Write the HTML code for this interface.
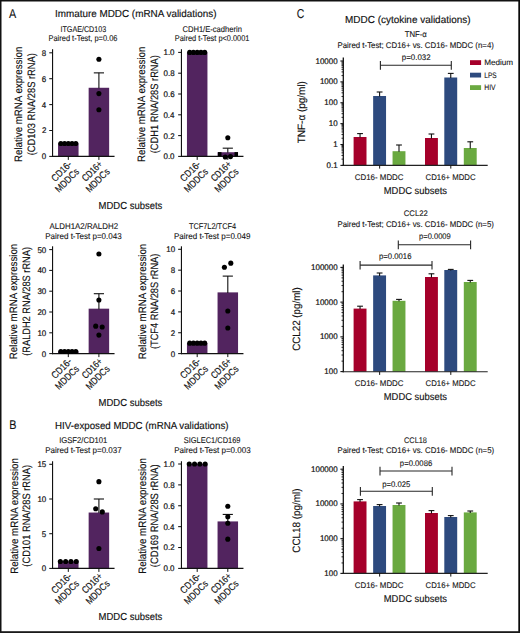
<!DOCTYPE html>
<html><head><meta charset="utf-8"><style>
html,body{margin:0;padding:0;background:#fff;}
body{width:520px;height:633px;overflow:hidden;}
svg{display:block;font-family:"Liberation Sans", sans-serif;text-rendering:geometricPrecision;}
text{fill:#111;stroke:#111;}
</style></head><body>
<svg width="520" height="633" viewBox="0 0 520 633">
<rect x="0" y="0" width="520" height="633" fill="#fff"/>
<text x="9.00" y="17.70" font-size="12.8" textLength="7.22" lengthAdjust="spacingAndGlyphs" stroke-width="0.1">A</text>
<text x="54.96" y="17.00" font-size="10.2" textLength="161.55" lengthAdjust="spacingAndGlyphs" stroke-width="0.15">Immature MDDC (mRNA validations)</text>
<text x="60.46" y="31.75" font-size="8.4" textLength="45.74" lengthAdjust="spacingAndGlyphs" stroke-width="0.1">ITGAE/CD103</text>
<text x="48.50" y="40.75" font-size="8.4" textLength="68.95" lengthAdjust="spacingAndGlyphs" stroke-width="0.1">Paired t-Test, p=0.06</text>
<text x="182.47" y="31.75" font-size="8.4" textLength="59.40" lengthAdjust="spacingAndGlyphs" stroke-width="0.1">CDH1/E-cadherin</text>
<text x="174.76" y="40.75" font-size="8.4" textLength="74.73" lengthAdjust="spacingAndGlyphs" stroke-width="0.1">Paired t-Test p&lt;0.0001</text>
<rect x="58.05" y="143.45" width="20.50" height="12.95" fill="#52245f"/>
<rect x="88.65" y="87.77" width="20.50" height="68.63" fill="#52245f"/>
<line x1="98.90" y1="72.87" x2="98.90" y2="88.27" stroke="#111" stroke-width="1.1"/>
<line x1="93.80" y1="72.87" x2="104.00" y2="72.87" stroke="#111" stroke-width="1.1"/>
<line x1="52.55" y1="49.20" x2="52.55" y2="156.95" stroke="#111" stroke-width="1.15"/>
<line x1="52.00" y1="156.40" x2="114.55" y2="156.40" stroke="#111" stroke-width="1.15"/>
<line x1="49.25" y1="156.40" x2="52.55" y2="156.40" stroke="#111" stroke-width="1.05"/>
<text x="41.81" y="159.30" font-size="8.2" textLength="4.42" lengthAdjust="spacingAndGlyphs" stroke-width="0.2">0</text>
<line x1="49.25" y1="130.50" x2="52.55" y2="130.50" stroke="#111" stroke-width="1.05"/>
<text x="41.93" y="133.40" font-size="8.2" textLength="4.42" lengthAdjust="spacingAndGlyphs" stroke-width="0.2">2</text>
<line x1="49.25" y1="104.60" x2="52.55" y2="104.60" stroke="#111" stroke-width="1.05"/>
<text x="41.73" y="107.50" font-size="8.2" textLength="4.42" lengthAdjust="spacingAndGlyphs" stroke-width="0.2">4</text>
<line x1="49.25" y1="78.70" x2="52.55" y2="78.70" stroke="#111" stroke-width="1.05"/>
<text x="41.85" y="81.60" font-size="8.2" textLength="4.42" lengthAdjust="spacingAndGlyphs" stroke-width="0.2">6</text>
<line x1="49.25" y1="52.80" x2="52.55" y2="52.80" stroke="#111" stroke-width="1.05"/>
<text x="41.85" y="55.70" font-size="8.2" textLength="4.42" lengthAdjust="spacingAndGlyphs" stroke-width="0.2">8</text>
<line x1="68.30" y1="156.40" x2="68.30" y2="159.90" stroke="#111" stroke-width="1.0"/>
<line x1="98.90" y1="156.40" x2="98.90" y2="159.90" stroke="#111" stroke-width="1.0"/>
<circle cx="60.80" cy="143.45" r="2.55" fill="#000"/>
<circle cx="64.55" cy="143.45" r="2.55" fill="#000"/>
<circle cx="68.30" cy="143.45" r="2.55" fill="#000"/>
<circle cx="72.05" cy="143.45" r="2.55" fill="#000"/>
<circle cx="75.80" cy="143.45" r="2.55" fill="#000"/>
<circle cx="98.90" cy="59.28" r="2.55" fill="#000"/>
<circle cx="98.90" cy="93.59" r="2.55" fill="#000"/>
<circle cx="98.90" cy="109.78" r="2.55" fill="#000"/>
<text x="-27.52" y="8.90" font-size="9.8" textLength="24.40" lengthAdjust="spacingAndGlyphs" transform="translate(68.30,156.40) rotate(-45)" stroke-width="0.15">CD16-</text>
<text x="-32.47" y="19.40" font-size="9.8" textLength="29.26" lengthAdjust="spacingAndGlyphs" transform="translate(68.30,156.40) rotate(-45)" stroke-width="0.15">MDDCs</text>
<text x="-27.49" y="8.90" font-size="9.8" textLength="24.38" lengthAdjust="spacingAndGlyphs" transform="translate(98.90,156.40) rotate(-45)" stroke-width="0.15">CD16+</text>
<text x="-32.47" y="19.40" font-size="9.8" textLength="29.26" lengthAdjust="spacingAndGlyphs" transform="translate(98.90,156.40) rotate(-45)" stroke-width="0.15">MDDCs</text>
<text x="-57.78" y="0.00" font-size="10.7" textLength="115.35" lengthAdjust="spacingAndGlyphs" transform="translate(22.20,104.20) rotate(-90)" stroke-width="0.15">Relative mRNA expression</text>
<text x="-51.06" y="0.00" font-size="10.7" textLength="102.14" lengthAdjust="spacingAndGlyphs" transform="translate(34.50,104.20) rotate(-90)" stroke-width="0.15">(CD103 RNA/28S rRNA)</text>
<rect x="186.95" y="52.40" width="20.50" height="104.00" fill="#52245f"/>
<rect x="217.55" y="152.24" width="20.50" height="4.16" fill="#52245f"/>
<line x1="227.80" y1="148.18" x2="227.80" y2="152.74" stroke="#111" stroke-width="1.1"/>
<line x1="222.70" y1="148.18" x2="232.90" y2="148.18" stroke="#111" stroke-width="1.1"/>
<line x1="181.45" y1="49.20" x2="181.45" y2="156.95" stroke="#111" stroke-width="1.15"/>
<line x1="180.90" y1="156.40" x2="243.45" y2="156.40" stroke="#111" stroke-width="1.15"/>
<line x1="178.15" y1="156.40" x2="181.45" y2="156.40" stroke="#111" stroke-width="1.05"/>
<text x="163.47" y="159.30" font-size="8.2" textLength="11.06" lengthAdjust="spacingAndGlyphs" stroke-width="0.2">0.0</text>
<line x1="178.15" y1="135.60" x2="181.45" y2="135.60" stroke="#111" stroke-width="1.05"/>
<text x="163.59" y="138.50" font-size="8.2" textLength="11.06" lengthAdjust="spacingAndGlyphs" stroke-width="0.2">0.2</text>
<line x1="178.15" y1="114.80" x2="181.45" y2="114.80" stroke="#111" stroke-width="1.05"/>
<text x="163.39" y="117.70" font-size="8.2" textLength="11.06" lengthAdjust="spacingAndGlyphs" stroke-width="0.2">0.4</text>
<line x1="178.15" y1="94.00" x2="181.45" y2="94.00" stroke="#111" stroke-width="1.05"/>
<text x="163.51" y="96.90" font-size="8.2" textLength="11.06" lengthAdjust="spacingAndGlyphs" stroke-width="0.2">0.6</text>
<line x1="178.15" y1="73.20" x2="181.45" y2="73.20" stroke="#111" stroke-width="1.05"/>
<text x="163.51" y="76.10" font-size="8.2" textLength="11.06" lengthAdjust="spacingAndGlyphs" stroke-width="0.2">0.8</text>
<line x1="178.15" y1="52.40" x2="181.45" y2="52.40" stroke="#111" stroke-width="1.05"/>
<text x="163.47" y="55.30" font-size="8.2" textLength="11.06" lengthAdjust="spacingAndGlyphs" stroke-width="0.2">1.0</text>
<line x1="197.20" y1="156.40" x2="197.20" y2="159.90" stroke="#111" stroke-width="1.0"/>
<line x1="227.80" y1="156.40" x2="227.80" y2="159.90" stroke="#111" stroke-width="1.0"/>
<circle cx="189.70" cy="52.40" r="2.55" fill="#000"/>
<circle cx="193.45" cy="52.40" r="2.55" fill="#000"/>
<circle cx="197.20" cy="52.40" r="2.55" fill="#000"/>
<circle cx="200.95" cy="52.40" r="2.55" fill="#000"/>
<circle cx="204.70" cy="52.40" r="2.55" fill="#000"/>
<circle cx="227.80" cy="137.68" r="2.55" fill="#000"/>
<circle cx="225.30" cy="157.02" r="2.55" fill="#000"/>
<circle cx="230.50" cy="156.61" r="2.55" fill="#000"/>
<rect x="218.00" y="152.10" width="3.50" height="4.20" fill="#000"/>
<rect x="234.50" y="152.10" width="3.50" height="4.20" fill="#000"/>
<text x="-27.52" y="8.90" font-size="9.8" textLength="24.40" lengthAdjust="spacingAndGlyphs" transform="translate(197.20,156.40) rotate(-45)" stroke-width="0.15">CD16-</text>
<text x="-32.47" y="19.40" font-size="9.8" textLength="29.26" lengthAdjust="spacingAndGlyphs" transform="translate(197.20,156.40) rotate(-45)" stroke-width="0.15">MDDCs</text>
<text x="-27.49" y="8.90" font-size="9.8" textLength="24.38" lengthAdjust="spacingAndGlyphs" transform="translate(227.80,156.40) rotate(-45)" stroke-width="0.15">CD16+</text>
<text x="-32.47" y="19.40" font-size="9.8" textLength="29.26" lengthAdjust="spacingAndGlyphs" transform="translate(227.80,156.40) rotate(-45)" stroke-width="0.15">MDDCs</text>
<text x="-57.78" y="0.00" font-size="10.7" textLength="115.35" lengthAdjust="spacingAndGlyphs" transform="translate(145.30,104.20) rotate(-90)" stroke-width="0.15">Relative mRNA expression</text>
<text x="-49.06" y="0.00" font-size="10.7" textLength="98.14" lengthAdjust="spacingAndGlyphs" transform="translate(157.70,104.20) rotate(-90)" stroke-width="0.15">(CDH1 RNA/28S rRNA)</text>
<text x="98.59" y="208.60" font-size="10.2" textLength="63.78" lengthAdjust="spacingAndGlyphs" stroke-width="0.15">MDDC subsets</text>
<text x="49.60" y="229.25" font-size="8.4" textLength="68.45" lengthAdjust="spacingAndGlyphs" stroke-width="0.1">ALDH1A2/RALDH2</text>
<text x="45.21" y="238.75" font-size="8.4" textLength="76.50" lengthAdjust="spacingAndGlyphs" stroke-width="0.1">Paired t-Test p=0.043</text>
<text x="188.95" y="229.25" font-size="8.4" textLength="47.13" lengthAdjust="spacingAndGlyphs" stroke-width="0.1">TCF7L2/TCF4</text>
<text x="173.96" y="238.75" font-size="8.4" textLength="76.54" lengthAdjust="spacingAndGlyphs" stroke-width="0.1">Paired t-Test p=0.049</text>
<rect x="58.05" y="351.52" width="20.50" height="2.08" fill="#52245f"/>
<rect x="88.65" y="308.67" width="20.50" height="44.93" fill="#52245f"/>
<line x1="98.90" y1="293.70" x2="98.90" y2="309.17" stroke="#111" stroke-width="1.1"/>
<line x1="93.80" y1="293.70" x2="104.00" y2="293.70" stroke="#111" stroke-width="1.1"/>
<line x1="52.55" y1="246.30" x2="52.55" y2="354.15" stroke="#111" stroke-width="1.15"/>
<line x1="52.00" y1="353.60" x2="114.55" y2="353.60" stroke="#111" stroke-width="1.15"/>
<line x1="49.25" y1="353.60" x2="52.55" y2="353.60" stroke="#111" stroke-width="1.05"/>
<text x="41.81" y="356.50" font-size="8.2" textLength="4.42" lengthAdjust="spacingAndGlyphs" stroke-width="0.2">0</text>
<line x1="49.25" y1="332.80" x2="52.55" y2="332.80" stroke="#111" stroke-width="1.05"/>
<text x="37.40" y="335.70" font-size="8.2" textLength="8.85" lengthAdjust="spacingAndGlyphs" stroke-width="0.2">10</text>
<line x1="49.25" y1="312.00" x2="52.55" y2="312.00" stroke="#111" stroke-width="1.05"/>
<text x="37.40" y="314.90" font-size="8.2" textLength="8.85" lengthAdjust="spacingAndGlyphs" stroke-width="0.2">20</text>
<line x1="49.25" y1="291.20" x2="52.55" y2="291.20" stroke="#111" stroke-width="1.05"/>
<text x="37.40" y="294.10" font-size="8.2" textLength="8.85" lengthAdjust="spacingAndGlyphs" stroke-width="0.2">30</text>
<line x1="49.25" y1="270.40" x2="52.55" y2="270.40" stroke="#111" stroke-width="1.05"/>
<text x="37.40" y="273.30" font-size="8.2" textLength="8.85" lengthAdjust="spacingAndGlyphs" stroke-width="0.2">40</text>
<line x1="49.25" y1="249.60" x2="52.55" y2="249.60" stroke="#111" stroke-width="1.05"/>
<text x="37.40" y="252.50" font-size="8.2" textLength="8.85" lengthAdjust="spacingAndGlyphs" stroke-width="0.2">50</text>
<line x1="68.30" y1="353.60" x2="68.30" y2="357.10" stroke="#111" stroke-width="1.0"/>
<line x1="98.90" y1="353.60" x2="98.90" y2="357.10" stroke="#111" stroke-width="1.0"/>
<circle cx="60.80" cy="351.52" r="2.55" fill="#000"/>
<circle cx="64.55" cy="351.52" r="2.55" fill="#000"/>
<circle cx="68.30" cy="351.52" r="2.55" fill="#000"/>
<circle cx="72.05" cy="351.52" r="2.55" fill="#000"/>
<circle cx="75.80" cy="351.52" r="2.55" fill="#000"/>
<circle cx="98.90" cy="253.97" r="2.55" fill="#000"/>
<circle cx="98.90" cy="299.94" r="2.55" fill="#000"/>
<circle cx="95.70" cy="326.14" r="2.55" fill="#000"/>
<circle cx="102.20" cy="326.98" r="2.55" fill="#000"/>
<circle cx="98.90" cy="335.09" r="2.55" fill="#000"/>
<text x="-27.52" y="8.90" font-size="9.8" textLength="24.40" lengthAdjust="spacingAndGlyphs" transform="translate(68.30,353.60) rotate(-45)" stroke-width="0.15">CD16-</text>
<text x="-32.47" y="19.40" font-size="9.8" textLength="29.26" lengthAdjust="spacingAndGlyphs" transform="translate(68.30,353.60) rotate(-45)" stroke-width="0.15">MDDCs</text>
<text x="-27.49" y="8.90" font-size="9.8" textLength="24.38" lengthAdjust="spacingAndGlyphs" transform="translate(98.90,353.60) rotate(-45)" stroke-width="0.15">CD16+</text>
<text x="-32.47" y="19.40" font-size="9.8" textLength="29.26" lengthAdjust="spacingAndGlyphs" transform="translate(98.90,353.60) rotate(-45)" stroke-width="0.15">MDDCs</text>
<text x="-57.78" y="0.00" font-size="10.7" textLength="115.35" lengthAdjust="spacingAndGlyphs" transform="translate(17.00,301.40) rotate(-90)" stroke-width="0.15">Relative mRNA expression</text>
<text x="-54.35" y="0.00" font-size="10.7" textLength="108.71" lengthAdjust="spacingAndGlyphs" transform="translate(29.50,301.40) rotate(-90)" stroke-width="0.15">(RALDH2 RNA/28S rRNA)</text>
<rect x="186.95" y="343.17" width="20.50" height="10.43" fill="#52245f"/>
<rect x="217.55" y="292.38" width="20.50" height="61.22" fill="#52245f"/>
<line x1="227.80" y1="276.11" x2="227.80" y2="292.88" stroke="#111" stroke-width="1.1"/>
<line x1="222.70" y1="276.11" x2="232.90" y2="276.11" stroke="#111" stroke-width="1.1"/>
<line x1="181.45" y1="246.30" x2="181.45" y2="354.15" stroke="#111" stroke-width="1.15"/>
<line x1="180.90" y1="353.60" x2="243.45" y2="353.60" stroke="#111" stroke-width="1.15"/>
<line x1="178.15" y1="353.60" x2="181.45" y2="353.60" stroke="#111" stroke-width="1.05"/>
<text x="170.71" y="356.50" font-size="8.2" textLength="4.42" lengthAdjust="spacingAndGlyphs" stroke-width="0.2">0</text>
<line x1="178.15" y1="332.74" x2="181.45" y2="332.74" stroke="#111" stroke-width="1.05"/>
<text x="170.83" y="335.64" font-size="8.2" textLength="4.42" lengthAdjust="spacingAndGlyphs" stroke-width="0.2">2</text>
<line x1="178.15" y1="311.88" x2="181.45" y2="311.88" stroke="#111" stroke-width="1.05"/>
<text x="170.63" y="314.78" font-size="8.2" textLength="4.42" lengthAdjust="spacingAndGlyphs" stroke-width="0.2">4</text>
<line x1="178.15" y1="291.02" x2="181.45" y2="291.02" stroke="#111" stroke-width="1.05"/>
<text x="170.75" y="293.92" font-size="8.2" textLength="4.42" lengthAdjust="spacingAndGlyphs" stroke-width="0.2">6</text>
<line x1="178.15" y1="270.16" x2="181.45" y2="270.16" stroke="#111" stroke-width="1.05"/>
<text x="170.75" y="273.06" font-size="8.2" textLength="4.42" lengthAdjust="spacingAndGlyphs" stroke-width="0.2">8</text>
<line x1="178.15" y1="249.30" x2="181.45" y2="249.30" stroke="#111" stroke-width="1.05"/>
<text x="166.30" y="252.20" font-size="8.2" textLength="8.85" lengthAdjust="spacingAndGlyphs" stroke-width="0.2">10</text>
<line x1="197.20" y1="353.60" x2="197.20" y2="357.10" stroke="#111" stroke-width="1.0"/>
<line x1="227.80" y1="353.60" x2="227.80" y2="357.10" stroke="#111" stroke-width="1.0"/>
<circle cx="189.70" cy="343.17" r="2.55" fill="#000"/>
<circle cx="193.45" cy="343.17" r="2.55" fill="#000"/>
<circle cx="197.20" cy="343.17" r="2.55" fill="#000"/>
<circle cx="200.95" cy="343.17" r="2.55" fill="#000"/>
<circle cx="204.70" cy="343.17" r="2.55" fill="#000"/>
<circle cx="224.40" cy="267.24" r="2.55" fill="#000"/>
<circle cx="230.80" cy="263.17" r="2.55" fill="#000"/>
<circle cx="227.80" cy="311.05" r="2.55" fill="#000"/>
<circle cx="227.80" cy="328.05" r="2.55" fill="#000"/>
<text x="-27.52" y="8.90" font-size="9.8" textLength="24.40" lengthAdjust="spacingAndGlyphs" transform="translate(197.20,353.60) rotate(-45)" stroke-width="0.15">CD16-</text>
<text x="-32.47" y="19.40" font-size="9.8" textLength="29.26" lengthAdjust="spacingAndGlyphs" transform="translate(197.20,353.60) rotate(-45)" stroke-width="0.15">MDDCs</text>
<text x="-27.49" y="8.90" font-size="9.8" textLength="24.38" lengthAdjust="spacingAndGlyphs" transform="translate(227.80,353.60) rotate(-45)" stroke-width="0.15">CD16+</text>
<text x="-32.47" y="19.40" font-size="9.8" textLength="29.26" lengthAdjust="spacingAndGlyphs" transform="translate(227.80,353.60) rotate(-45)" stroke-width="0.15">MDDCs</text>
<text x="-57.78" y="0.00" font-size="10.7" textLength="115.35" lengthAdjust="spacingAndGlyphs" transform="translate(146.10,301.40) rotate(-90)" stroke-width="0.15">Relative mRNA expression</text>
<text x="-47.65" y="0.00" font-size="10.7" textLength="95.35" lengthAdjust="spacingAndGlyphs" transform="translate(158.40,301.40) rotate(-90)" stroke-width="0.15">(TCF4 RNA/28S rRNA)</text>
<text x="98.59" y="405.70" font-size="10.2" textLength="63.78" lengthAdjust="spacingAndGlyphs" stroke-width="0.15">MDDC subsets</text>
<text x="9.13" y="429.40" font-size="12.8" textLength="7.23" lengthAdjust="spacingAndGlyphs" stroke-width="0.1">B</text>
<text x="55.07" y="428.75" font-size="10.2" textLength="173.45" lengthAdjust="spacingAndGlyphs" stroke-width="0.15">HIV-exposed MDDC (mRNA validations)</text>
<text x="59.16" y="443.00" font-size="8.4" textLength="48.14" lengthAdjust="spacingAndGlyphs" stroke-width="0.1">IGSF2/CD101</text>
<text x="45.21" y="453.00" font-size="8.4" textLength="76.53" lengthAdjust="spacingAndGlyphs" stroke-width="0.1">Paired t-Test p=0.037</text>
<text x="183.76" y="442.75" font-size="8.4" textLength="56.72" lengthAdjust="spacingAndGlyphs" stroke-width="0.1">SIGLEC1/CD169</text>
<text x="174.21" y="453.00" font-size="8.4" textLength="76.50" lengthAdjust="spacingAndGlyphs" stroke-width="0.1">Paired t-Test p=0.003</text>
<rect x="58.05" y="561.46" width="20.50" height="6.94" fill="#52245f"/>
<rect x="88.65" y="512.53" width="20.50" height="55.87" fill="#52245f"/>
<line x1="98.90" y1="499.00" x2="98.90" y2="513.03" stroke="#111" stroke-width="1.1"/>
<line x1="93.80" y1="499.00" x2="104.00" y2="499.00" stroke="#111" stroke-width="1.1"/>
<line x1="52.55" y1="461.25" x2="52.55" y2="568.95" stroke="#111" stroke-width="1.15"/>
<line x1="52.00" y1="568.40" x2="114.55" y2="568.40" stroke="#111" stroke-width="1.15"/>
<line x1="49.25" y1="568.40" x2="52.55" y2="568.40" stroke="#111" stroke-width="1.05"/>
<text x="41.81" y="571.30" font-size="8.2" textLength="4.42" lengthAdjust="spacingAndGlyphs" stroke-width="0.2">0</text>
<line x1="49.25" y1="533.70" x2="52.55" y2="533.70" stroke="#111" stroke-width="1.05"/>
<text x="41.85" y="536.60" font-size="8.2" textLength="4.42" lengthAdjust="spacingAndGlyphs" stroke-width="0.2">5</text>
<line x1="49.25" y1="499.00" x2="52.55" y2="499.00" stroke="#111" stroke-width="1.05"/>
<text x="37.40" y="501.90" font-size="8.2" textLength="8.85" lengthAdjust="spacingAndGlyphs" stroke-width="0.2">10</text>
<line x1="49.25" y1="464.30" x2="52.55" y2="464.30" stroke="#111" stroke-width="1.05"/>
<text x="37.44" y="467.20" font-size="8.2" textLength="8.85" lengthAdjust="spacingAndGlyphs" stroke-width="0.2">15</text>
<line x1="68.30" y1="568.40" x2="68.30" y2="571.90" stroke="#111" stroke-width="1.0"/>
<line x1="98.90" y1="568.40" x2="98.90" y2="571.90" stroke="#111" stroke-width="1.0"/>
<circle cx="60.35" cy="561.46" r="2.55" fill="#000"/>
<circle cx="65.65" cy="561.46" r="2.55" fill="#000"/>
<circle cx="70.95" cy="561.46" r="2.55" fill="#000"/>
<circle cx="76.25" cy="561.46" r="2.55" fill="#000"/>
<circle cx="98.90" cy="481.65" r="2.55" fill="#000"/>
<circle cx="95.70" cy="508.72" r="2.55" fill="#000"/>
<circle cx="102.30" cy="511.91" r="2.55" fill="#000"/>
<circle cx="98.90" cy="548.48" r="2.55" fill="#000"/>
<text x="-27.52" y="8.90" font-size="9.8" textLength="24.40" lengthAdjust="spacingAndGlyphs" transform="translate(68.30,568.40) rotate(-45)" stroke-width="0.15">CD16-</text>
<text x="-32.47" y="19.40" font-size="9.8" textLength="29.26" lengthAdjust="spacingAndGlyphs" transform="translate(68.30,568.40) rotate(-45)" stroke-width="0.15">MDDCs</text>
<text x="-27.49" y="8.90" font-size="9.8" textLength="24.38" lengthAdjust="spacingAndGlyphs" transform="translate(98.90,568.40) rotate(-45)" stroke-width="0.15">CD16+</text>
<text x="-32.47" y="19.40" font-size="9.8" textLength="29.26" lengthAdjust="spacingAndGlyphs" transform="translate(98.90,568.40) rotate(-45)" stroke-width="0.15">MDDCs</text>
<text x="-57.93" y="0.00" font-size="10.7" textLength="115.65" lengthAdjust="spacingAndGlyphs" transform="translate(17.50,515.85) rotate(-90)" stroke-width="0.15">Relative mRNA expression</text>
<text x="-50.81" y="0.00" font-size="10.7" textLength="101.64" lengthAdjust="spacingAndGlyphs" transform="translate(29.80,515.85) rotate(-90)" stroke-width="0.15">(CD101 RNA/28S rRNA)</text>
<rect x="186.95" y="464.00" width="20.50" height="104.40" fill="#52245f"/>
<rect x="217.55" y="521.42" width="20.50" height="46.98" fill="#52245f"/>
<line x1="227.80" y1="514.43" x2="227.80" y2="521.92" stroke="#111" stroke-width="1.1"/>
<line x1="222.70" y1="514.43" x2="232.90" y2="514.43" stroke="#111" stroke-width="1.1"/>
<line x1="181.45" y1="461.25" x2="181.45" y2="568.95" stroke="#111" stroke-width="1.15"/>
<line x1="180.90" y1="568.40" x2="243.45" y2="568.40" stroke="#111" stroke-width="1.15"/>
<line x1="178.15" y1="568.40" x2="181.45" y2="568.40" stroke="#111" stroke-width="1.05"/>
<text x="163.47" y="571.30" font-size="8.2" textLength="11.06" lengthAdjust="spacingAndGlyphs" stroke-width="0.2">0.0</text>
<line x1="178.15" y1="547.52" x2="181.45" y2="547.52" stroke="#111" stroke-width="1.05"/>
<text x="163.59" y="550.42" font-size="8.2" textLength="11.06" lengthAdjust="spacingAndGlyphs" stroke-width="0.2">0.2</text>
<line x1="178.15" y1="526.64" x2="181.45" y2="526.64" stroke="#111" stroke-width="1.05"/>
<text x="163.39" y="529.54" font-size="8.2" textLength="11.06" lengthAdjust="spacingAndGlyphs" stroke-width="0.2">0.4</text>
<line x1="178.15" y1="505.76" x2="181.45" y2="505.76" stroke="#111" stroke-width="1.05"/>
<text x="163.51" y="508.66" font-size="8.2" textLength="11.06" lengthAdjust="spacingAndGlyphs" stroke-width="0.2">0.6</text>
<line x1="178.15" y1="484.88" x2="181.45" y2="484.88" stroke="#111" stroke-width="1.05"/>
<text x="163.51" y="487.78" font-size="8.2" textLength="11.06" lengthAdjust="spacingAndGlyphs" stroke-width="0.2">0.8</text>
<line x1="178.15" y1="464.00" x2="181.45" y2="464.00" stroke="#111" stroke-width="1.05"/>
<text x="163.47" y="466.90" font-size="8.2" textLength="11.06" lengthAdjust="spacingAndGlyphs" stroke-width="0.2">1.0</text>
<line x1="197.20" y1="568.40" x2="197.20" y2="571.90" stroke="#111" stroke-width="1.0"/>
<line x1="227.80" y1="568.40" x2="227.80" y2="571.90" stroke="#111" stroke-width="1.0"/>
<circle cx="189.25" cy="464.00" r="2.55" fill="#000"/>
<circle cx="194.55" cy="464.00" r="2.55" fill="#000"/>
<circle cx="199.85" cy="464.00" r="2.55" fill="#000"/>
<circle cx="205.15" cy="464.00" r="2.55" fill="#000"/>
<circle cx="227.80" cy="506.28" r="2.55" fill="#000"/>
<circle cx="227.80" cy="516.72" r="2.55" fill="#000"/>
<circle cx="227.80" cy="523.30" r="2.55" fill="#000"/>
<circle cx="227.80" cy="539.17" r="2.55" fill="#000"/>
<text x="-27.52" y="8.90" font-size="9.8" textLength="24.40" lengthAdjust="spacingAndGlyphs" transform="translate(197.20,568.40) rotate(-45)" stroke-width="0.15">CD16-</text>
<text x="-32.47" y="19.40" font-size="9.8" textLength="29.26" lengthAdjust="spacingAndGlyphs" transform="translate(197.20,568.40) rotate(-45)" stroke-width="0.15">MDDCs</text>
<text x="-27.49" y="8.90" font-size="9.8" textLength="24.38" lengthAdjust="spacingAndGlyphs" transform="translate(227.80,568.40) rotate(-45)" stroke-width="0.15">CD16+</text>
<text x="-32.47" y="19.40" font-size="9.8" textLength="29.26" lengthAdjust="spacingAndGlyphs" transform="translate(227.80,568.40) rotate(-45)" stroke-width="0.15">MDDCs</text>
<text x="-57.93" y="0.00" font-size="10.7" textLength="115.65" lengthAdjust="spacingAndGlyphs" transform="translate(145.50,515.85) rotate(-90)" stroke-width="0.15">Relative mRNA expression</text>
<text x="-51.36" y="0.00" font-size="10.7" textLength="102.75" lengthAdjust="spacingAndGlyphs" transform="translate(157.90,515.85) rotate(-90)" stroke-width="0.15">(CD169 RNA/28S rRNA)</text>
<text x="98.59" y="620.40" font-size="10.2" textLength="63.78" lengthAdjust="spacingAndGlyphs" stroke-width="0.15">MDDC subsets</text>
<text x="296.67" y="17.90" font-size="12.8" textLength="7.62" lengthAdjust="spacingAndGlyphs" stroke-width="0.1">C</text>
<text x="345.05" y="22.50" font-size="10.2" textLength="125.44" lengthAdjust="spacingAndGlyphs" stroke-width="0.15">MDDC (cytokine validations)</text>
<text x="404.69" y="36.75" font-size="8.2" textLength="22.19" lengthAdjust="spacingAndGlyphs" stroke-width="0.1">TNF-α</text>
<text x="337.52" y="47.50" font-size="8.3" textLength="156.35" lengthAdjust="spacingAndGlyphs" stroke-width="0.1">Paired t-Test; CD16+ vs. CD16- MDDC (n=4)</text>
<rect x="353.60" y="137.00" width="12.90" height="28.40" fill="#a5002a"/>
<line x1="360.05" y1="133.60" x2="360.05" y2="137.50" stroke="#111" stroke-width="1.1"/>
<line x1="357.15" y1="133.60" x2="362.95" y2="133.60" stroke="#111" stroke-width="1.1"/>
<rect x="373.15" y="96.00" width="12.90" height="69.40" fill="#2d4a7e"/>
<line x1="379.60" y1="92.00" x2="379.60" y2="96.50" stroke="#111" stroke-width="1.1"/>
<line x1="376.70" y1="92.00" x2="382.50" y2="92.00" stroke="#111" stroke-width="1.1"/>
<rect x="392.55" y="151.20" width="12.90" height="14.20" fill="#6aa940"/>
<line x1="399.00" y1="145.00" x2="399.00" y2="151.70" stroke="#111" stroke-width="1.1"/>
<line x1="396.10" y1="145.00" x2="401.90" y2="145.00" stroke="#111" stroke-width="1.1"/>
<rect x="425.00" y="138.00" width="12.90" height="27.40" fill="#a5002a"/>
<line x1="431.45" y1="134.00" x2="431.45" y2="138.50" stroke="#111" stroke-width="1.1"/>
<line x1="428.55" y1="134.00" x2="434.35" y2="134.00" stroke="#111" stroke-width="1.1"/>
<rect x="444.30" y="77.50" width="12.90" height="87.90" fill="#2d4a7e"/>
<line x1="450.75" y1="73.40" x2="450.75" y2="78.00" stroke="#111" stroke-width="1.1"/>
<line x1="447.85" y1="73.40" x2="453.65" y2="73.40" stroke="#111" stroke-width="1.1"/>
<rect x="463.80" y="148.00" width="12.90" height="17.40" fill="#6aa940"/>
<line x1="470.25" y1="141.80" x2="470.25" y2="148.50" stroke="#111" stroke-width="1.1"/>
<line x1="467.35" y1="141.80" x2="473.15" y2="141.80" stroke="#111" stroke-width="1.1"/>
<line x1="343.30" y1="57.40" x2="343.30" y2="166.00" stroke="#111" stroke-width="1.3"/>
<line x1="342.65" y1="165.40" x2="487.70" y2="165.40" stroke="#222" stroke-width="1.15"/>
<line x1="340.40" y1="165.40" x2="343.30" y2="165.40" stroke="#111" stroke-width="1.1"/>
<text x="326.60" y="167.90" font-size="8.2" textLength="11.06" lengthAdjust="spacingAndGlyphs" stroke-width="0.2">0.1</text>
<line x1="341.50" y1="159.11" x2="343.30" y2="159.11" stroke="#111" stroke-width="0.9"/>
<line x1="341.50" y1="155.44" x2="343.30" y2="155.44" stroke="#111" stroke-width="0.9"/>
<line x1="341.50" y1="152.83" x2="343.30" y2="152.83" stroke="#111" stroke-width="0.9"/>
<line x1="341.50" y1="150.81" x2="343.30" y2="150.81" stroke="#111" stroke-width="0.9"/>
<line x1="341.50" y1="149.15" x2="343.30" y2="149.15" stroke="#111" stroke-width="0.9"/>
<line x1="341.50" y1="147.75" x2="343.30" y2="147.75" stroke="#111" stroke-width="0.9"/>
<line x1="341.50" y1="146.54" x2="343.30" y2="146.54" stroke="#111" stroke-width="0.9"/>
<line x1="341.50" y1="145.48" x2="343.30" y2="145.48" stroke="#111" stroke-width="0.9"/>
<line x1="340.40" y1="144.52" x2="343.30" y2="144.52" stroke="#111" stroke-width="1.1"/>
<text x="333.24" y="147.02" font-size="8.2" textLength="4.42" lengthAdjust="spacingAndGlyphs" stroke-width="0.2">1</text>
<line x1="341.50" y1="138.23" x2="343.30" y2="138.23" stroke="#111" stroke-width="0.9"/>
<line x1="341.50" y1="134.56" x2="343.30" y2="134.56" stroke="#111" stroke-width="0.9"/>
<line x1="341.50" y1="131.95" x2="343.30" y2="131.95" stroke="#111" stroke-width="0.9"/>
<line x1="341.50" y1="129.93" x2="343.30" y2="129.93" stroke="#111" stroke-width="0.9"/>
<line x1="341.50" y1="128.27" x2="343.30" y2="128.27" stroke="#111" stroke-width="0.9"/>
<line x1="341.50" y1="126.87" x2="343.30" y2="126.87" stroke="#111" stroke-width="0.9"/>
<line x1="341.50" y1="125.66" x2="343.30" y2="125.66" stroke="#111" stroke-width="0.9"/>
<line x1="341.50" y1="124.60" x2="343.30" y2="124.60" stroke="#111" stroke-width="0.9"/>
<line x1="340.40" y1="123.64" x2="343.30" y2="123.64" stroke="#111" stroke-width="1.1"/>
<text x="328.75" y="126.14" font-size="8.2" textLength="8.85" lengthAdjust="spacingAndGlyphs" stroke-width="0.2">10</text>
<line x1="341.50" y1="117.35" x2="343.30" y2="117.35" stroke="#111" stroke-width="0.9"/>
<line x1="341.50" y1="113.68" x2="343.30" y2="113.68" stroke="#111" stroke-width="0.9"/>
<line x1="341.50" y1="111.07" x2="343.30" y2="111.07" stroke="#111" stroke-width="0.9"/>
<line x1="341.50" y1="109.05" x2="343.30" y2="109.05" stroke="#111" stroke-width="0.9"/>
<line x1="341.50" y1="107.39" x2="343.30" y2="107.39" stroke="#111" stroke-width="0.9"/>
<line x1="341.50" y1="105.99" x2="343.30" y2="105.99" stroke="#111" stroke-width="0.9"/>
<line x1="341.50" y1="104.78" x2="343.30" y2="104.78" stroke="#111" stroke-width="0.9"/>
<line x1="341.50" y1="103.72" x2="343.30" y2="103.72" stroke="#111" stroke-width="0.9"/>
<line x1="340.40" y1="102.76" x2="343.30" y2="102.76" stroke="#111" stroke-width="1.1"/>
<text x="324.33" y="105.26" font-size="8.2" textLength="13.27" lengthAdjust="spacingAndGlyphs" stroke-width="0.2">100</text>
<line x1="341.50" y1="96.47" x2="343.30" y2="96.47" stroke="#111" stroke-width="0.9"/>
<line x1="341.50" y1="92.80" x2="343.30" y2="92.80" stroke="#111" stroke-width="0.9"/>
<line x1="341.50" y1="90.19" x2="343.30" y2="90.19" stroke="#111" stroke-width="0.9"/>
<line x1="341.50" y1="88.17" x2="343.30" y2="88.17" stroke="#111" stroke-width="0.9"/>
<line x1="341.50" y1="86.51" x2="343.30" y2="86.51" stroke="#111" stroke-width="0.9"/>
<line x1="341.50" y1="85.11" x2="343.30" y2="85.11" stroke="#111" stroke-width="0.9"/>
<line x1="341.50" y1="83.90" x2="343.30" y2="83.90" stroke="#111" stroke-width="0.9"/>
<line x1="341.50" y1="82.84" x2="343.30" y2="82.84" stroke="#111" stroke-width="0.9"/>
<line x1="340.40" y1="81.88" x2="343.30" y2="81.88" stroke="#111" stroke-width="1.1"/>
<text x="319.88" y="84.38" font-size="8.2" textLength="17.70" lengthAdjust="spacingAndGlyphs" stroke-width="0.2">1000</text>
<line x1="341.50" y1="75.59" x2="343.30" y2="75.59" stroke="#111" stroke-width="0.9"/>
<line x1="341.50" y1="71.92" x2="343.30" y2="71.92" stroke="#111" stroke-width="0.9"/>
<line x1="341.50" y1="69.31" x2="343.30" y2="69.31" stroke="#111" stroke-width="0.9"/>
<line x1="341.50" y1="67.29" x2="343.30" y2="67.29" stroke="#111" stroke-width="0.9"/>
<line x1="341.50" y1="65.63" x2="343.30" y2="65.63" stroke="#111" stroke-width="0.9"/>
<line x1="341.50" y1="64.23" x2="343.30" y2="64.23" stroke="#111" stroke-width="0.9"/>
<line x1="341.50" y1="63.02" x2="343.30" y2="63.02" stroke="#111" stroke-width="0.9"/>
<line x1="341.50" y1="61.96" x2="343.30" y2="61.96" stroke="#111" stroke-width="0.9"/>
<line x1="340.40" y1="61.00" x2="343.30" y2="61.00" stroke="#111" stroke-width="1.1"/>
<text x="315.47" y="63.50" font-size="8.2" textLength="22.12" lengthAdjust="spacingAndGlyphs" stroke-width="0.2">10000</text>
<line x1="379.65" y1="165.40" x2="379.65" y2="168.60" stroke="#111" stroke-width="1.0"/>
<line x1="450.80" y1="165.40" x2="450.80" y2="168.60" stroke="#111" stroke-width="1.0"/>
<line x1="380.40" y1="65.30" x2="451.30" y2="65.30" stroke="#262626" stroke-width="1.1"/>
<line x1="380.40" y1="61.10" x2="380.40" y2="69.70" stroke="#262626" stroke-width="1.1"/>
<line x1="451.30" y1="61.10" x2="451.30" y2="69.70" stroke="#262626" stroke-width="1.1"/>
<text x="401.84" y="60.40" font-size="8.2" textLength="28.83" lengthAdjust="spacingAndGlyphs" stroke-width="0.1">p=0.032</text>
<text x="-30.90" y="0.00" font-size="10.6" textLength="62.24" lengthAdjust="spacingAndGlyphs" transform="translate(305.30,112.40) rotate(-90)" stroke-width="0.15">TNF-α (pg/ml)</text>
<text x="354.75" y="179.70" font-size="8.3" textLength="48.79" lengthAdjust="spacingAndGlyphs" stroke-width="0.1">CD16- MDDC</text>
<text x="425.56" y="179.70" font-size="8.3" textLength="49.99" lengthAdjust="spacingAndGlyphs" stroke-width="0.1">CD16+ MDDC</text>
<text x="383.80" y="193.80" font-size="10.0" textLength="63.17" lengthAdjust="spacingAndGlyphs" stroke-width="0.15">MDDC subsets</text>
<rect x="470.00" y="60.20" width="11.10" height="4.80" fill="#a5002a"/>
<text x="484.20" y="65.20" font-size="8.0" textLength="28.95" lengthAdjust="spacingAndGlyphs" stroke-width="0.1">Medium</text>
<rect x="470.00" y="72.70" width="11.10" height="4.80" fill="#2d4a7e"/>
<text x="484.33" y="77.70" font-size="8.0" textLength="12.32" lengthAdjust="spacingAndGlyphs" stroke-width="0.1">LPS</text>
<rect x="470.00" y="85.20" width="11.10" height="4.80" fill="#6aa940"/>
<text x="484.30" y="89.80" font-size="8.0" textLength="11.36" lengthAdjust="spacingAndGlyphs" stroke-width="0.1">HIV</text>
<text x="403.76" y="216.00" font-size="8.2" textLength="24.10" lengthAdjust="spacingAndGlyphs" stroke-width="0.1">CCL22</text>
<text x="337.52" y="226.90" font-size="8.3" textLength="156.40" lengthAdjust="spacingAndGlyphs" stroke-width="0.1">Paired t-Test; CD16+ vs. CD16- MDDC (n=5)</text>
<rect x="353.60" y="308.60" width="12.90" height="63.10" fill="#a5002a"/>
<line x1="360.05" y1="306.20" x2="360.05" y2="309.10" stroke="#111" stroke-width="1.1"/>
<line x1="357.15" y1="306.20" x2="362.95" y2="306.20" stroke="#111" stroke-width="1.1"/>
<rect x="373.15" y="275.40" width="12.90" height="96.30" fill="#2d4a7e"/>
<line x1="379.60" y1="273.00" x2="379.60" y2="275.90" stroke="#111" stroke-width="1.1"/>
<line x1="376.70" y1="273.00" x2="382.50" y2="273.00" stroke="#111" stroke-width="1.1"/>
<rect x="392.55" y="300.80" width="12.90" height="70.90" fill="#6aa940"/>
<line x1="399.00" y1="299.40" x2="399.00" y2="301.30" stroke="#111" stroke-width="1.1"/>
<line x1="396.10" y1="299.40" x2="401.90" y2="299.40" stroke="#111" stroke-width="1.1"/>
<rect x="425.00" y="277.00" width="12.90" height="94.70" fill="#a5002a"/>
<line x1="431.45" y1="273.80" x2="431.45" y2="277.50" stroke="#111" stroke-width="1.1"/>
<line x1="428.55" y1="273.80" x2="434.35" y2="273.80" stroke="#111" stroke-width="1.1"/>
<rect x="444.30" y="270.00" width="12.90" height="101.70" fill="#2d4a7e"/>
<line x1="450.75" y1="269.40" x2="450.75" y2="270.50" stroke="#111" stroke-width="1.1"/>
<line x1="447.85" y1="269.40" x2="453.65" y2="269.40" stroke="#111" stroke-width="1.1"/>
<rect x="463.80" y="282.00" width="12.90" height="89.70" fill="#6aa940"/>
<line x1="470.25" y1="280.40" x2="470.25" y2="282.50" stroke="#111" stroke-width="1.1"/>
<line x1="467.35" y1="280.40" x2="473.15" y2="280.40" stroke="#111" stroke-width="1.1"/>
<line x1="343.30" y1="264.50" x2="343.30" y2="372.30" stroke="#111" stroke-width="1.3"/>
<line x1="342.65" y1="371.70" x2="487.70" y2="371.70" stroke="#222" stroke-width="1.15"/>
<line x1="340.40" y1="371.60" x2="343.30" y2="371.60" stroke="#111" stroke-width="1.1"/>
<text x="324.33" y="374.10" font-size="8.2" textLength="13.27" lengthAdjust="spacingAndGlyphs" stroke-width="0.2">100</text>
<line x1="341.50" y1="361.14" x2="343.30" y2="361.14" stroke="#111" stroke-width="0.9"/>
<line x1="341.50" y1="355.03" x2="343.30" y2="355.03" stroke="#111" stroke-width="0.9"/>
<line x1="341.50" y1="350.69" x2="343.30" y2="350.69" stroke="#111" stroke-width="0.9"/>
<line x1="341.50" y1="347.32" x2="343.30" y2="347.32" stroke="#111" stroke-width="0.9"/>
<line x1="341.50" y1="344.57" x2="343.30" y2="344.57" stroke="#111" stroke-width="0.9"/>
<line x1="341.50" y1="342.25" x2="343.30" y2="342.25" stroke="#111" stroke-width="0.9"/>
<line x1="341.50" y1="340.23" x2="343.30" y2="340.23" stroke="#111" stroke-width="0.9"/>
<line x1="341.50" y1="338.46" x2="343.30" y2="338.46" stroke="#111" stroke-width="0.9"/>
<line x1="340.40" y1="336.87" x2="343.30" y2="336.87" stroke="#111" stroke-width="1.1"/>
<text x="319.88" y="339.37" font-size="8.2" textLength="17.70" lengthAdjust="spacingAndGlyphs" stroke-width="0.2">1000</text>
<line x1="341.50" y1="326.41" x2="343.30" y2="326.41" stroke="#111" stroke-width="0.9"/>
<line x1="341.50" y1="320.29" x2="343.30" y2="320.29" stroke="#111" stroke-width="0.9"/>
<line x1="341.50" y1="315.96" x2="343.30" y2="315.96" stroke="#111" stroke-width="0.9"/>
<line x1="341.50" y1="312.59" x2="343.30" y2="312.59" stroke="#111" stroke-width="0.9"/>
<line x1="341.50" y1="309.84" x2="343.30" y2="309.84" stroke="#111" stroke-width="0.9"/>
<line x1="341.50" y1="307.51" x2="343.30" y2="307.51" stroke="#111" stroke-width="0.9"/>
<line x1="341.50" y1="305.50" x2="343.30" y2="305.50" stroke="#111" stroke-width="0.9"/>
<line x1="341.50" y1="303.72" x2="343.30" y2="303.72" stroke="#111" stroke-width="0.9"/>
<line x1="340.40" y1="302.13" x2="343.30" y2="302.13" stroke="#111" stroke-width="1.1"/>
<text x="315.47" y="304.64" font-size="8.2" textLength="22.12" lengthAdjust="spacingAndGlyphs" stroke-width="0.2">10000</text>
<line x1="341.50" y1="291.68" x2="343.30" y2="291.68" stroke="#111" stroke-width="0.9"/>
<line x1="341.50" y1="285.56" x2="343.30" y2="285.56" stroke="#111" stroke-width="0.9"/>
<line x1="341.50" y1="281.22" x2="343.30" y2="281.22" stroke="#111" stroke-width="0.9"/>
<line x1="341.50" y1="277.86" x2="343.30" y2="277.86" stroke="#111" stroke-width="0.9"/>
<line x1="341.50" y1="275.11" x2="343.30" y2="275.11" stroke="#111" stroke-width="0.9"/>
<line x1="341.50" y1="272.78" x2="343.30" y2="272.78" stroke="#111" stroke-width="0.9"/>
<line x1="341.50" y1="270.77" x2="343.30" y2="270.77" stroke="#111" stroke-width="0.9"/>
<line x1="341.50" y1="268.99" x2="343.30" y2="268.99" stroke="#111" stroke-width="0.9"/>
<line x1="340.40" y1="267.40" x2="343.30" y2="267.40" stroke="#111" stroke-width="1.1"/>
<text x="311.05" y="269.90" font-size="8.2" textLength="26.54" lengthAdjust="spacingAndGlyphs" stroke-width="0.2">100000</text>
<line x1="379.65" y1="371.70" x2="379.65" y2="374.90" stroke="#111" stroke-width="1.0"/>
<line x1="450.80" y1="371.70" x2="450.80" y2="374.90" stroke="#111" stroke-width="1.0"/>
<line x1="398.30" y1="244.80" x2="470.60" y2="244.80" stroke="#262626" stroke-width="1.1"/>
<line x1="398.30" y1="240.60" x2="398.30" y2="249.20" stroke="#262626" stroke-width="1.1"/>
<line x1="470.60" y1="240.60" x2="470.60" y2="249.20" stroke="#262626" stroke-width="1.1"/>
<text x="419.06" y="239.10" font-size="8.2" textLength="31.72" lengthAdjust="spacingAndGlyphs" stroke-width="0.1">p=0.0009</text>
<line x1="360.10" y1="265.10" x2="432.00" y2="265.10" stroke="#262626" stroke-width="1.1"/>
<line x1="360.10" y1="260.90" x2="360.10" y2="269.50" stroke="#262626" stroke-width="1.1"/>
<line x1="432.00" y1="260.90" x2="432.00" y2="269.50" stroke="#262626" stroke-width="1.1"/>
<text x="379.05" y="259.00" font-size="8.2" textLength="32.40" lengthAdjust="spacingAndGlyphs" stroke-width="0.1">p=0.0016</text>
<text x="-31.69" y="0.00" font-size="10.6" textLength="63.50" lengthAdjust="spacingAndGlyphs" transform="translate(300.30,319.10) rotate(-90)" stroke-width="0.15">CCL22 (pg/ml)</text>
<text x="354.75" y="386.00" font-size="8.3" textLength="48.79" lengthAdjust="spacingAndGlyphs" stroke-width="0.1">CD16- MDDC</text>
<text x="425.56" y="386.00" font-size="8.3" textLength="49.99" lengthAdjust="spacingAndGlyphs" stroke-width="0.1">CD16+ MDDC</text>
<text x="383.80" y="400.10" font-size="10.0" textLength="63.17" lengthAdjust="spacingAndGlyphs" stroke-width="0.15">MDDC subsets</text>
<text x="403.98" y="442.60" font-size="8.2" textLength="22.99" lengthAdjust="spacingAndGlyphs" stroke-width="0.1">CCL18</text>
<text x="337.52" y="453.00" font-size="8.3" textLength="156.60" lengthAdjust="spacingAndGlyphs" stroke-width="0.1">Paired t-Test; CD16+ vs. CD16- MDDC (n=5)</text>
<rect x="353.60" y="501.40" width="12.90" height="72.00" fill="#a5002a"/>
<line x1="360.05" y1="499.60" x2="360.05" y2="501.90" stroke="#111" stroke-width="1.1"/>
<line x1="357.15" y1="499.60" x2="362.95" y2="499.60" stroke="#111" stroke-width="1.1"/>
<rect x="373.15" y="506.00" width="12.90" height="67.40" fill="#2d4a7e"/>
<line x1="379.60" y1="504.60" x2="379.60" y2="506.50" stroke="#111" stroke-width="1.1"/>
<line x1="376.70" y1="504.60" x2="382.50" y2="504.60" stroke="#111" stroke-width="1.1"/>
<rect x="392.55" y="505.00" width="12.90" height="68.40" fill="#6aa940"/>
<line x1="399.00" y1="503.00" x2="399.00" y2="505.50" stroke="#111" stroke-width="1.1"/>
<line x1="396.10" y1="503.00" x2="401.90" y2="503.00" stroke="#111" stroke-width="1.1"/>
<rect x="425.00" y="513.00" width="12.90" height="60.40" fill="#a5002a"/>
<line x1="431.45" y1="510.60" x2="431.45" y2="513.50" stroke="#111" stroke-width="1.1"/>
<line x1="428.55" y1="510.60" x2="434.35" y2="510.60" stroke="#111" stroke-width="1.1"/>
<rect x="444.30" y="517.00" width="12.90" height="56.40" fill="#2d4a7e"/>
<line x1="450.75" y1="515.60" x2="450.75" y2="517.50" stroke="#111" stroke-width="1.1"/>
<line x1="447.85" y1="515.60" x2="453.65" y2="515.60" stroke="#111" stroke-width="1.1"/>
<rect x="463.80" y="512.40" width="12.90" height="61.00" fill="#6aa940"/>
<line x1="470.25" y1="511.00" x2="470.25" y2="512.90" stroke="#111" stroke-width="1.1"/>
<line x1="467.35" y1="511.00" x2="473.15" y2="511.00" stroke="#111" stroke-width="1.1"/>
<line x1="343.30" y1="465.90" x2="343.30" y2="574.00" stroke="#111" stroke-width="1.3"/>
<line x1="342.65" y1="573.40" x2="487.70" y2="573.40" stroke="#222" stroke-width="1.15"/>
<line x1="340.40" y1="573.40" x2="343.30" y2="573.40" stroke="#111" stroke-width="1.1"/>
<text x="324.33" y="575.90" font-size="8.2" textLength="13.27" lengthAdjust="spacingAndGlyphs" stroke-width="0.2">100</text>
<line x1="341.50" y1="562.94" x2="343.30" y2="562.94" stroke="#111" stroke-width="0.9"/>
<line x1="341.50" y1="556.83" x2="343.30" y2="556.83" stroke="#111" stroke-width="0.9"/>
<line x1="341.50" y1="552.49" x2="343.30" y2="552.49" stroke="#111" stroke-width="0.9"/>
<line x1="341.50" y1="549.12" x2="343.30" y2="549.12" stroke="#111" stroke-width="0.9"/>
<line x1="341.50" y1="546.37" x2="343.30" y2="546.37" stroke="#111" stroke-width="0.9"/>
<line x1="341.50" y1="544.05" x2="343.30" y2="544.05" stroke="#111" stroke-width="0.9"/>
<line x1="341.50" y1="542.03" x2="343.30" y2="542.03" stroke="#111" stroke-width="0.9"/>
<line x1="341.50" y1="540.26" x2="343.30" y2="540.26" stroke="#111" stroke-width="0.9"/>
<line x1="340.40" y1="538.67" x2="343.30" y2="538.67" stroke="#111" stroke-width="1.1"/>
<text x="319.88" y="541.17" font-size="8.2" textLength="17.70" lengthAdjust="spacingAndGlyphs" stroke-width="0.2">1000</text>
<line x1="341.50" y1="528.21" x2="343.30" y2="528.21" stroke="#111" stroke-width="0.9"/>
<line x1="341.50" y1="522.09" x2="343.30" y2="522.09" stroke="#111" stroke-width="0.9"/>
<line x1="341.50" y1="517.76" x2="343.30" y2="517.76" stroke="#111" stroke-width="0.9"/>
<line x1="341.50" y1="514.39" x2="343.30" y2="514.39" stroke="#111" stroke-width="0.9"/>
<line x1="341.50" y1="511.64" x2="343.30" y2="511.64" stroke="#111" stroke-width="0.9"/>
<line x1="341.50" y1="509.31" x2="343.30" y2="509.31" stroke="#111" stroke-width="0.9"/>
<line x1="341.50" y1="507.30" x2="343.30" y2="507.30" stroke="#111" stroke-width="0.9"/>
<line x1="341.50" y1="505.52" x2="343.30" y2="505.52" stroke="#111" stroke-width="0.9"/>
<line x1="340.40" y1="503.93" x2="343.30" y2="503.93" stroke="#111" stroke-width="1.1"/>
<text x="315.47" y="506.44" font-size="8.2" textLength="22.12" lengthAdjust="spacingAndGlyphs" stroke-width="0.2">10000</text>
<line x1="341.50" y1="493.48" x2="343.30" y2="493.48" stroke="#111" stroke-width="0.9"/>
<line x1="341.50" y1="487.36" x2="343.30" y2="487.36" stroke="#111" stroke-width="0.9"/>
<line x1="341.50" y1="483.02" x2="343.30" y2="483.02" stroke="#111" stroke-width="0.9"/>
<line x1="341.50" y1="479.66" x2="343.30" y2="479.66" stroke="#111" stroke-width="0.9"/>
<line x1="341.50" y1="476.91" x2="343.30" y2="476.91" stroke="#111" stroke-width="0.9"/>
<line x1="341.50" y1="474.58" x2="343.30" y2="474.58" stroke="#111" stroke-width="0.9"/>
<line x1="341.50" y1="472.57" x2="343.30" y2="472.57" stroke="#111" stroke-width="0.9"/>
<line x1="341.50" y1="470.79" x2="343.30" y2="470.79" stroke="#111" stroke-width="0.9"/>
<line x1="340.40" y1="469.20" x2="343.30" y2="469.20" stroke="#111" stroke-width="1.1"/>
<text x="311.05" y="471.70" font-size="8.2" textLength="26.54" lengthAdjust="spacingAndGlyphs" stroke-width="0.2">100000</text>
<line x1="379.65" y1="573.40" x2="379.65" y2="576.60" stroke="#111" stroke-width="1.0"/>
<line x1="450.80" y1="573.40" x2="450.80" y2="576.60" stroke="#111" stroke-width="1.0"/>
<line x1="380.00" y1="471.00" x2="452.00" y2="471.00" stroke="#262626" stroke-width="1.1"/>
<line x1="380.00" y1="466.80" x2="380.00" y2="475.40" stroke="#262626" stroke-width="1.1"/>
<line x1="452.00" y1="466.80" x2="452.00" y2="475.40" stroke="#262626" stroke-width="1.1"/>
<text x="399.85" y="466.10" font-size="8.2" textLength="32.40" lengthAdjust="spacingAndGlyphs" stroke-width="0.1">p=0.0086</text>
<line x1="360.40" y1="491.30" x2="432.30" y2="491.30" stroke="#262626" stroke-width="1.1"/>
<line x1="360.40" y1="487.10" x2="360.40" y2="495.70" stroke="#262626" stroke-width="1.1"/>
<line x1="432.30" y1="487.10" x2="432.30" y2="495.70" stroke="#262626" stroke-width="1.1"/>
<text x="382.15" y="486.50" font-size="8.2" textLength="28.13" lengthAdjust="spacingAndGlyphs" stroke-width="0.1">p=0.025</text>
<text x="-32.09" y="0.00" font-size="10.6" textLength="64.31" lengthAdjust="spacingAndGlyphs" transform="translate(300.30,520.65) rotate(-90)" stroke-width="0.15">CCL18 (pg/ml)</text>
<text x="354.75" y="587.70" font-size="8.3" textLength="48.79" lengthAdjust="spacingAndGlyphs" stroke-width="0.1">CD16- MDDC</text>
<text x="425.56" y="587.70" font-size="8.3" textLength="49.99" lengthAdjust="spacingAndGlyphs" stroke-width="0.1">CD16+ MDDC</text>
<text x="383.80" y="601.80" font-size="10.0" textLength="63.17" lengthAdjust="spacingAndGlyphs" stroke-width="0.15">MDDC subsets</text>
<rect x="0" y="0" width="520" height="1.5" fill="#111"/>
<rect x="0" y="0" width="1.5" height="633" fill="#111"/>
<rect x="518.3" y="0" width="1.7" height="633" fill="#0a0a0a"/>
<rect x="0" y="631.2" width="520" height="1.8" fill="#1a1a1a"/>
</svg>
</body></html>
